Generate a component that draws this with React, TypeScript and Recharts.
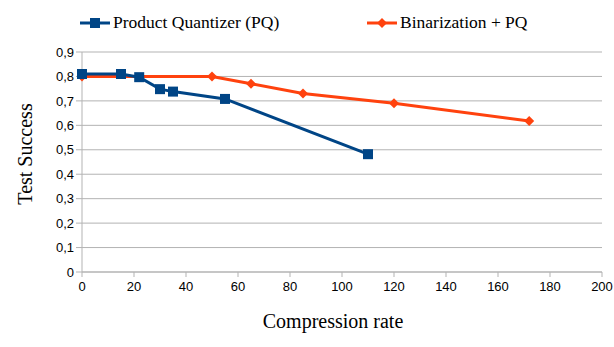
import { LineChart, Line, XAxis, YAxis, CartesianGrid, Legend, Label } from "recharts";

const pqRates = [0, 15, 22, 30, 35, 55, 110];
const pqSuccess = [0.81, 0.81, 0.797, 0.748, 0.738, 0.708, 0.482];

const binRates = [0, 50, 65, 85, 120, 172];
const binSuccess = [0.8, 0.8, 0.77, 0.73, 0.69, 0.618];

const xTicks = [0, 20, 40, 60, 80, 100, 120, 140, 160, 180, 200];
const yTicks = [0, 0.1, 0.2, 0.3, 0.4, 0.5, 0.6, 0.7, 0.8, 0.9];

const PQ_COLOR = "#004586";
const BIN_COLOR = "#ff420e";
const SERIF = "Liberation Serif";

const pqData = pqRates.map((rate, i) => ({ rate, value: pqSuccess[i] }));
const binData = binRates.map((rate, i) => ({ rate, value: binSuccess[i] }));

const fmt = (v: number) => String(Math.round(v * 10) / 10).replace(".", ",");

const SquareDot = (props: any) => {
  const { cx, cy } = props;
  if (cx == null || cy == null) return null;
  return <rect key={`sq-${cx}`} x={cx - 5} y={cy - 5} width={10} height={10} fill={PQ_COLOR} />;
};

const DiamondDot = (props: any) => {
  const { cx, cy } = props;
  if (cx == null || cy == null) return null;
  const r = 5;
  return (
    <path
      key={`dm-${cx}`}
      d={`M${cx},${cy - r}L${cx + r},${cy}L${cx},${cy + r}L${cx - r},${cy}Z`}
      fill={BIN_COLOR}
    />
  );
};

// legend drawn as svg so the serif font matches the axis titles
const LegendContent = () => {
  const item = (color: string, square: boolean, text: string, left: number) => (
    <g transform={`translate(${left},0)`}>
      <line x1={0} y1={11} x2={30} y2={11} stroke={color} strokeWidth={3} />
      {square ? (
        <rect x={10} y={6} width={10} height={10} fill={color} />
      ) : (
        <path d="M15,6L20,11L15,16L10,11Z" fill={color} />
      )}
      <text x={33} y={16} fontFamily={SERIF} fontSize={17.5} fill="#000">
        {text}
      </text>
    </g>
  );
  return (
    <svg width={614} height={26} style={{ display: "block" }}>
      {item(PQ_COLOR, true, "Product Quantizer (PQ)", 80)}
      {item(BIN_COLOR, false, "Binarization + PQ", 367)}
    </svg>
  );
};

export default function App() {
  return (
    <div style={{ position: "absolute", left: 0, top: 0, background: "#fff" }}>
      <LineChart width={614} height={347} margin={{ top: 26, right: 12, left: 0, bottom: 0 }}>
        <CartesianGrid vertical={false} stroke="#b3b3b3" />
        <XAxis
          type="number"
          dataKey="rate"
          domain={[0, 200]}
          ticks={xTicks}
          allowDuplicatedCategory={false}
          height={75}
          stroke="#b3b3b3"
          tickSize={5}
          tickMargin={5}
          tick={{ fill: "#000", fontSize: 13, fontFamily: "Liberation Sans" }}
        >
          <Label
            content={() => (
              <text x={333} y={328} textAnchor="middle" fontFamily={SERIF} fontSize={20} fill="#000">
                Compression rate
              </text>
            )}
          />
        </XAxis>
        <YAxis
          type="number"
          domain={[0, 0.9]}
          ticks={yTicks}
          width={82}
          stroke="#b3b3b3"
          tickSize={6}
          tickMargin={2}
          tickFormatter={fmt}
          tick={{ fill: "#000", fontSize: 13, fontFamily: "Liberation Sans" }}
        >
          <Label
            content={() => (
              <text
                x={0}
                y={0}
                transform="translate(32,154) rotate(-90)"
                textAnchor="middle"
                fontFamily={SERIF}
                fontSize={20}
                fill="#000"
              >
                Test Success
              </text>
            )}
          />
        </YAxis>
        <Legend verticalAlign="top" content={<LegendContent />} wrapperStyle={{ top: 12, left: 0, width: 614 }} />
        <Line
          data={binData}
          dataKey="value"
          stroke={BIN_COLOR}
          strokeWidth={3}
          dot={<DiamondDot />}
          activeDot={false}
          isAnimationActive={false}
        />
        <Line
          data={pqData}
          dataKey="value"
          stroke={PQ_COLOR}
          strokeWidth={3}
          dot={<SquareDot />}
          activeDot={false}
          isAnimationActive={false}
        />
      </LineChart>
    </div>
  );
}
